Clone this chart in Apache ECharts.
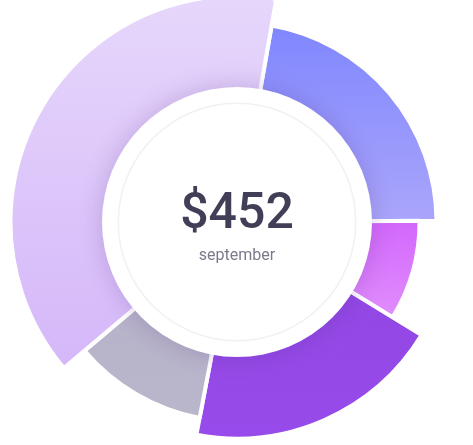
<!DOCTYPE html>
<html><head><meta charset="utf-8">
<script src="https://cdn.jsdelivr.net/npm/echarts@6/dist/echarts.min.js"></script>
<style>html,body{margin:0;padding:0;background:#fff}#c{width:473px;height:445px}</style>
</head><body><div id="c"></div>
<script>
// data (clockwise from the blue slice)
const categories = ['Blue', 'Pink', 'Purple', 'Gray', 'Lavender'];
const values = [100, 40, 87, 49, 176];
const centerTitle = '$452';
const centerSubtitle = 'september';

// styles
const outerRadius = [199.5, 182.5, 216.5, 199.5, 226.5];
const gradients = [
  ['#7f86fe', '#aba6fb'],
  ['#d266fc', '#e18efd'],
  ['#9247e5', '#974bea'],
  ['#b6b2c9', '#bab6cc'],
  ['#e6d7fb', '#d5b7f9']
];
const center = [237, 222];

const chart = echarts.init(document.getElementById('c'), null, {renderer: 'canvas'});
const lg = (c) => new echarts.graphic.LinearGradient(0, 0, 0, 1, [{offset: 0, color: c[0]}, {offset: 1, color: c[1]}]);

const sliceSeries = values.map((v, i) => ({
  type: 'pie',
  center: center,
  radius: [125, outerRadius[i]],
  startAngle: 80,
  clockwise: true,
  silent: true,
  animation: false,
  avoidLabelOverlap: false,
  label: {show: false},
  labelLine: {show: false},
  data: values.map((vv, j) => ({
    name: categories[j],
    value: vv,
    itemStyle: j === i
      ? {color: lg(gradients[j]), borderColor: '#fff', borderWidth: 4}
      : {color: 'rgba(0,0,0,0)', borderWidth: 0}
  }))
}));

const option = {
  backgroundColor: '#fff',
  graphic: [
    {type: 'text', z: 100, x: 237, y: 215, style: {text: centerTitle, fill: '#413f57', fontFamily: 'Roboto', fontSize: 50, fontWeight: 500, align: 'center', verticalAlign: 'middle'}},
    {type: 'text', z: 100, x: 237, y: 256, style: {text: centerSubtitle, fill: '#7b7a8b', fontFamily: 'Roboto', fontSize: 16, align: 'center', verticalAlign: 'middle'}}
  ],
  series: [
    ...sliceSeries,
    {
      type: 'pie', center: center, radius: [0, 135], silent: true, animation: false,
      z: 5,
      itemStyle: {color: '#fff', shadowBlur: 26, shadowColor: 'rgba(70,30,120,0.22)'},
      label: {show: false},
      labelLine: {show: false},
      data: [{value: 1, name: 'total'}]
    },
    {
      type: 'pie', center: center, radius: [118, 119.5], silent: true, animation: false,
      z: 6,
      itemStyle: {color: '#f1f0f3'},
      label: {show: false}, labelLine: {show: false},
      data: [{value: 1, name: 'ring'}]
    }
  ]
};
chart.setOption(option);
</script>
</body></html>
